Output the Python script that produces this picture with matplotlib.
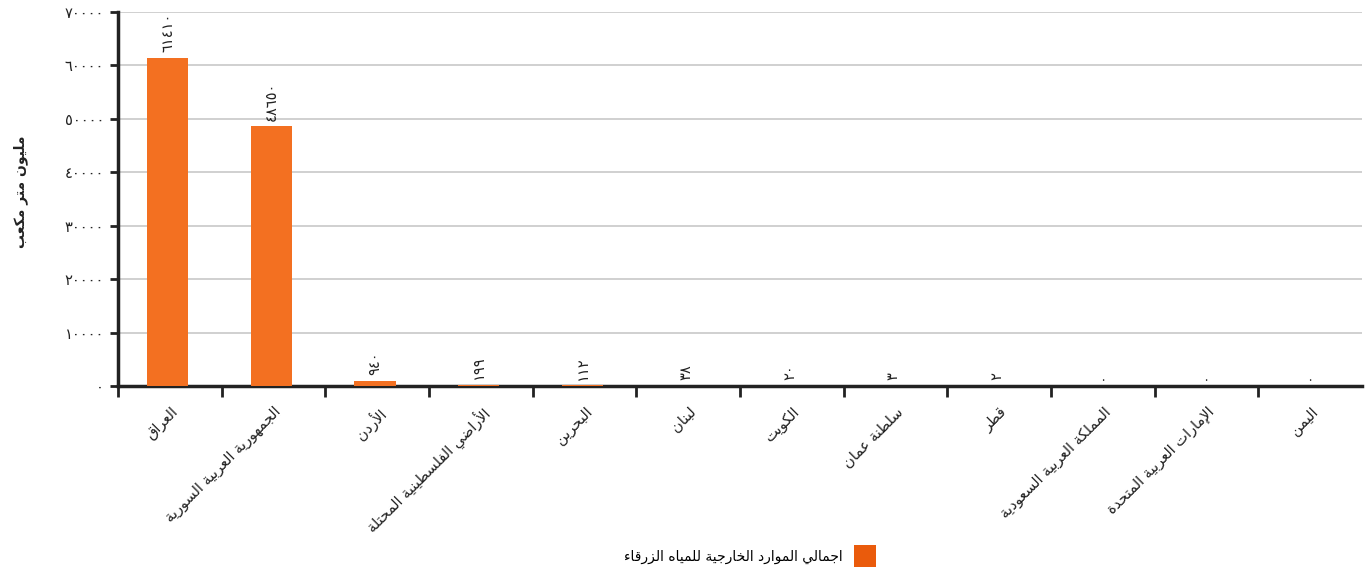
import matplotlib
matplotlib.use("Agg")
import matplotlib.pyplot as plt
from matplotlib.patches import Patch
from matplotlib.ticker import FuncFormatter, MultipleLocator

# البيانات
countries = [
    "العراق",
    "الجمهورية العربية السورية",
    "الأردن",
    "الأراضي الفلسطينية المحتلة",
    "البحرين",
    "لبنان",
    "الكويت",
    "سلطنة عمان",
    "قطر",
    "المملكة العربية السعودية",
    "الإمارات العربية المتحدة",
    "اليمن",
]
values = [61410, 48650, 940, 199, 112, 38, 20, 3, 2, 0, 0, 0]
y_label = "مليون متر مكعب"
legend_label = "اجمالي الموارد الخارجية للمياه الزرقاء"

bar_color = "#F37021"
legend_color = "#EA5B0C"

# تشكيل الحروف العربية (matplotlib لا يدعم الربط ولا الاتجاه من اليمين)
# الحرف -> (أول رمز في Presentation Forms-B، عدد الأشكال)
FORMS = {
    "ء": (0xFE80, 1), "آ": (0xFE81, 2), "أ": (0xFE83, 2), "ؤ": (0xFE85, 2),
    "إ": (0xFE87, 2), "ئ": (0xFE89, 4), "ا": (0xFE8D, 2), "ب": (0xFE8F, 4),
    "ة": (0xFE93, 2), "ت": (0xFE95, 4), "ث": (0xFE99, 4), "ج": (0xFE9D, 4),
    "ح": (0xFEA1, 4), "خ": (0xFEA5, 4), "د": (0xFEA9, 2), "ذ": (0xFEAB, 2),
    "ر": (0xFEAD, 2), "ز": (0xFEAF, 2), "س": (0xFEB1, 4), "ش": (0xFEB5, 4),
    "ص": (0xFEB9, 4), "ض": (0xFEBD, 4), "ط": (0xFEC1, 4), "ظ": (0xFEC5, 4),
    "ع": (0xFEC9, 4), "غ": (0xFECD, 4), "ف": (0xFED1, 4), "ق": (0xFED5, 4),
    "ك": (0xFED9, 4), "ل": (0xFEDD, 4), "م": (0xFEE1, 4), "ن": (0xFEE5, 4),
    "ه": (0xFEE9, 4), "و": (0xFEED, 2), "ى": (0xFEEF, 2), "ي": (0xFEF1, 4),
}
LAM_ALEF = {"آ": 0xFEF5, "أ": 0xFEF7, "إ": 0xFEF9, "ا": 0xFEFB}


def shape(text):
    # دمج لام-ألف
    chars = []
    i = 0
    while i < len(text):
        if text[i] == "ل" and i + 1 < len(text) and text[i + 1] in LAM_ALEF:
            chars.append(("LA", LAM_ALEF[text[i + 1]]))
            i += 2
        else:
            chars.append((text[i], None))
            i += 1

    def n_forms(c):
        if c[0] == "LA":
            return 2
        return FORMS[c[0]][1] if c[0] in FORMS else 0

    out = []
    for k, c in enumerate(chars):
        nf = n_forms(c)
        if nf == 0:
            out.append(c[0])
            continue
        prev_joins = k > 0 and n_forms(chars[k - 1]) == 4
        next_joins = nf == 4 and k + 1 < len(chars) and n_forms(chars[k + 1]) > 0
        base = c[1] if c[0] == "LA" else FORMS[c[0]][0]
        if nf == 1:
            out.append(chr(base))
        elif prev_joins and next_joins:
            out.append(chr(base + 3))
        elif next_joins:
            out.append(chr(base + 2))
        elif prev_joins:
            out.append(chr(base + 1))
        else:
            out.append(chr(base))
    return "".join(reversed(out))


def arabic_digits(n):
    return str(int(n)).translate(str.maketrans("0123456789", "٠١٢٣٤٥٦٧٨٩"))


plt.rcParams["font.family"] = ["DejaVu Sans"]

fig = plt.figure(figsize=(13.7, 5.71), dpi=100)
ax = fig.add_axes([118 / 1370, 1 - 386 / 571, (1362 - 118) / 1370, (386 - 12) / 571])

x = list(range(len(countries)))
ax.bar([xi - 0.02 for xi in x], values, width=0.4, color=bar_color, zorder=3)

# قيم الأعمدة
for xi, v in zip(x, values):
    ax.annotate(arabic_digits(v), (xi - 0.02, v), xytext=(0, 4), textcoords="offset points",
                rotation=90, ha="center", va="bottom", fontsize=10.5, color="#222222",
                zorder=4)

ax.set_xlim(-0.5, len(countries) - 0.5)
ax.set_ylim(0, 70000)
ax.yaxis.set_major_locator(MultipleLocator(10000))
ax.yaxis.set_major_formatter(FuncFormatter(lambda v, p: arabic_digits(v)))

# التدريجات على حدود الفئات والتسميات في المنتصف
ax.set_xticks([xi - 0.5 for xi in x])
ax.set_xticklabels([])
ax.set_xticks(x, minor=True)
ax.set_xticklabels([shape(c) for c in countries], minor=True, rotation=45,
                   ha="right", rotation_mode="anchor", fontsize=10.5, color="#222222")
ax.tick_params(axis="x", which="minor", length=0, pad=13)
ax.tick_params(axis="x", which="major", length=8, width=2, color="#222222")
ax.tick_params(axis="y", length=6, width=2, color="#222222", labelsize=10.5,
               labelcolor="#222222", pad=4)

ax.grid(axis="y", color="#c8c8c8", linewidth=1.2, zorder=0)
ax.set_axisbelow(True)
for side in ["top", "right"]:
    ax.spines[side].set_visible(False)
for side in ["left", "bottom"]:
    ax.spines[side].set_linewidth(2.5)
    ax.spines[side].set_color("#222222")

ax.set_ylabel(shape(y_label), fontsize=10, fontweight="bold", color="#222222")
ax.yaxis.set_label_coords(-0.072, 0.52)

handle = Patch(facecolor=legend_color, edgecolor="none")
fig.legend([handle], [shape(legend_label)], loc="center", bbox_to_anchor=(750 / 1370, 1 - 556 / 571),
           frameon=False, markerfirst=False, fontsize=10, handlelength=1.6, handleheight=2.0,
           handletextpad=0.8)

fig.savefig("out.png", dpi=100)
